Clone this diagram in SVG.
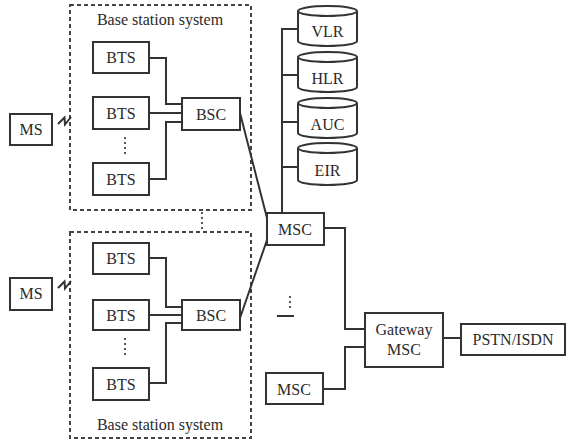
<svg xmlns="http://www.w3.org/2000/svg" width="567" height="443" viewBox="0 0 567 443">
<style>
.box{fill:#fff;stroke:#333;stroke-width:2}
.grp{fill:none;stroke:#444;stroke-width:2;stroke-dasharray:4 3}
.ln{fill:none;stroke:#333;stroke-width:2}
.dot{fill:none;stroke:#555;stroke-width:2;stroke-dasharray:2 3}
text{font-family:"Liberation Serif","Times New Roman",serif;font-size:16px;fill:#2a2a2a;text-anchor:middle}
</style>
<rect width="567" height="443" fill="#fff"/>
<g id="bss1">
<rect class="grp" x="70" y="5" width="181" height="205"/>
<text x="160" y="25">Base station system</text>
</g>
<g id="bss2">
<rect class="grp" x="70" y="232" width="181" height="206"/>
<text x="160" y="430">Base station system</text>
</g>
<g id="ms1"><rect class="box" x="10" y="114" width="42" height="31"/><text x="31" y="135">MS</text></g>
<g id="ms2"><rect class="box" x="10" y="278" width="42" height="32"/><text x="31" y="299">MS</text></g>
<g id="bts1a"><rect class="box" x="93" y="42" width="56" height="31"/><text x="121" y="63">BTS</text></g>
<g id="bts1b"><rect class="box" x="93" y="97" width="56" height="32"/><text x="121" y="119">BTS</text></g>
<g id="bts1c"><rect class="box" x="93" y="163" width="56" height="32"/><text x="121" y="185">BTS</text></g>
<g id="bsc1"><rect class="box" x="182" y="98" width="58" height="32"/><text x="211" y="120">BSC</text></g>
<g id="bts2a"><rect class="box" x="93" y="243" width="56" height="31"/><text x="121" y="264">BTS</text></g>
<g id="bts2b"><rect class="box" x="93" y="300" width="56" height="30"/><text x="121" y="321">BTS</text></g>
<g id="bts2c"><rect class="box" x="93" y="368" width="56" height="32"/><text x="121" y="390">BTS</text></g>
<g id="bsc2"><rect class="box" x="182" y="300" width="58" height="30"/><text x="211" y="321">BSC</text></g>
<g id="msc1"><rect class="box" x="267" y="213" width="57" height="32"/><text x="295" y="235">MSC</text></g>
<g id="msc2"><rect class="box" x="266" y="373" width="57" height="31"/><text x="294" y="395">MSC</text></g>
<g id="gmsc"><rect class="box" x="365" y="313" width="78" height="54"/><text x="404" y="335">Gateway</text><text x="404" y="355">MSC</text></g>
<g id="pstn"><rect class="box" x="461" y="324" width="104" height="31"/><text x="513" y="345">PSTN/ISDN</text></g>
<g id="vlr"><path class="box" d="M298,11 V41 A29.5,5 0 0 0 357,41 V11"/><ellipse class="box" cx="327.5" cy="11" rx="29.5" ry="5"/><text x="327.5" y="37">VLR</text></g>
<g id="hlr"><path class="box" d="M298,57 V87 A29.5,5 0 0 0 357,87 V57"/><ellipse class="box" cx="327.5" cy="57" rx="29.5" ry="5"/><text x="327.5" y="84">HLR</text></g>
<g id="auc"><path class="box" d="M298,103 V133 A29.5,5 0 0 0 357,133 V103"/><ellipse class="box" cx="327.5" cy="103" rx="29.5" ry="5"/><text x="327.5" y="130">AUC</text></g>
<g id="eir"><path class="box" d="M298,148 V180 A29.5,5 0 0 0 357,180 V148"/><ellipse class="box" cx="327.5" cy="148" rx="29.5" ry="5"/><text x="327.5" y="176">EIR</text></g>
<g id="connectors">
<path class="ln" d="M149,58 H166 V104 H182 M149,113 H182 M149,179 H166 V122 H182"/>
<path class="ln" d="M149,258 H166 V307 H182 M149,315 H182 M149,383 H166 V323 H182"/>
<path class="ln" d="M240,113 L267,218 M240,318 L267,240"/>
<path class="ln" d="M282,213 V29 H298 M282,75 H298 M282,122 H298 M282,167 H298"/>
<path class="ln" d="M324,228 H345 V329 H365 M323,389 H345 V347 H365 M443,338 H461"/>
<path class="ln" d="M58,124 L64.5,117.5 L65,124.5 L71,117"/>
<path class="ln" d="M58,288 L64.5,281.5 L65,288.5 L71,281"/>
<path class="dot" d="M125,137 V154 M125,338 V356 M202,212 V231 M290,296 V310"/>
<path class="ln" d="M277,316 H294"/>
</g>
</svg>
